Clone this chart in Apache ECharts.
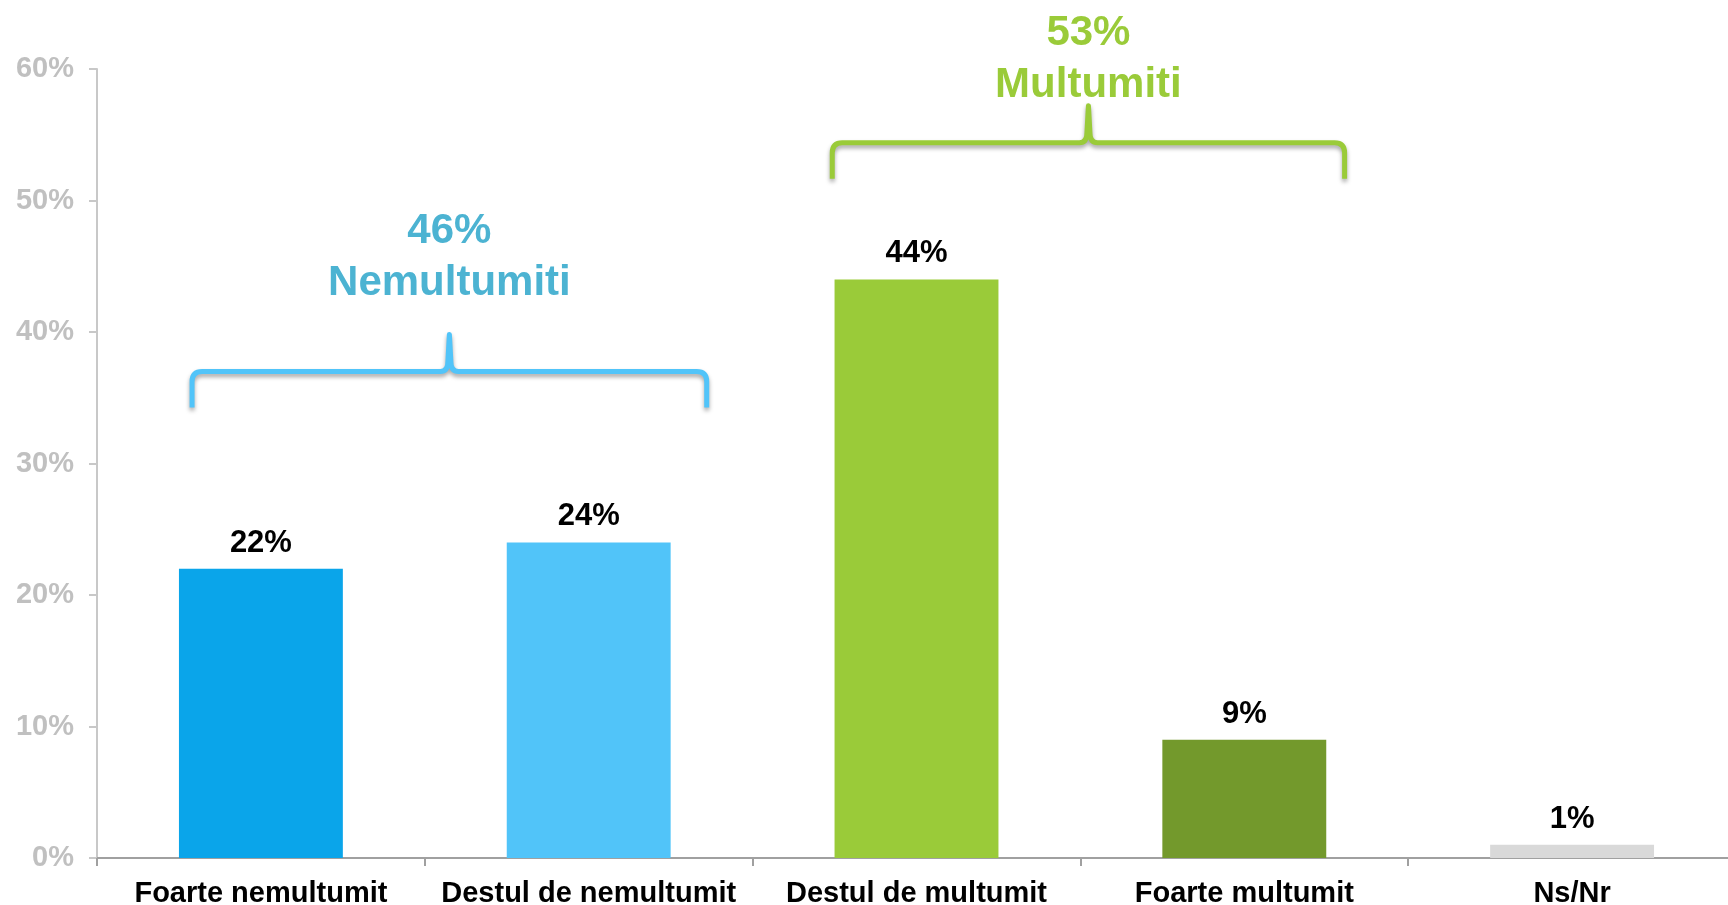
<!DOCTYPE html>
<html>
<head>
<meta charset="utf-8">
<script src="https://cdn.jsdelivr.net/npm/echarts@6/dist/echarts.min.js"></script>
<style>
html,body{margin:0;padding:0;background:#fff;}
#chart{width:1728px;height:905px;}
</style>
</head>
<body>
<div id="chart"></div>
<script>
// ---- data ----
const categories = ['Foarte nemultumit', 'Destul de nemultumit', 'Destul de multumit', 'Foarte multumit', 'Ns/Nr'];
const values = [22, 24, 44, 9, 1];
const barColors = ['#0aa5ea', '#51c4f9', '#9acb39', '#73992c', '#d9d9d9'];
const yTicks = [0, 10, 20, 30, 40, 50, 60];

// group annotations (braces)
const groupNames = ['Nemultumiti', 'Multumiti'];
const groupTotals = [46, 53];
const groupStart = [0, 2];
const groupEnd = [1, 3];
const groupBraceLevel = [37.0, 54.4];   // value of brace horizontal
const groupLabelLevel = [45.7, 60.7];   // value of label block centre
const groupColors = ['#51c4f9', '#9acb39'];
const groupTextColors = ['#4cb3d2', '#9acb39'];

const FONT = '"Liberation Sans", Arial, sans-serif';
// style: brace extent beyond the first/last category centre, in band units
const braceInset = [[-0.21, 0.36], [-0.257, 0.306]];

const chart = echarts.init(document.getElementById('chart'));

const braceData = groupNames.map((n, i) => [groupStart[i], groupEnd[i], groupBraceLevel[i], groupLabelLevel[i], i]);

function renderBrace(params, api) {
  const s = api.value(0), e = api.value(1), lvl = api.value(2), lab = api.value(3), gi = api.value(4);
  const band = api.size([1, 0])[0];
  const p0 = api.coord([s, lvl]);
  const p1 = api.coord([e, lvl]);
  const xl = p0[0] + braceInset[gi][0] * band;
  const xr = p1[0] + braceInset[gi][1] * band;
  const xm = (xl + xr) / 2;
  const yh = p0[1];
  const yb = yh + 36;
  const yp = yh - 37;
  const r = 10;
  const path = [
    'M', xl, yb, 'L', xl, yh + r, 'Q', xl, yh, xl + r, yh,
    'L', xm - 9, yh, 'Q', xm - 1.5, yh, xm - 1.5, yh - 10, 'L', xm, yp,
    'L', xm + 1.5, yh - 10, 'Q', xm + 1.5, yh, xm + 9, yh,
    'L', xr - r, yh, 'Q', xr, yh, xr, yh + r, 'L', xr, yb
  ].join(' ');
  const labP = api.coord([s, lab]);
  return {
    type: 'group',
    children: [
      {
        type: 'path',
        shape: { pathData: path },
        style: {
          fill: null, stroke: groupColors[gi], lineWidth: 5, lineCap: 'butt', lineJoin: 'round',
          shadowBlur: 4, shadowColor: 'rgba(0,0,0,0.35)', shadowOffsetY: 3
        }
      },
      {
        type: 'text',
        x: xm, y: labP[1],
        style: {
          text: groupTotals[gi] + '%\n' + groupNames[gi],
          fill: groupTextColors[gi],
          font: 'bold 42px ' + FONT,
          lineHeight: 52,
          align: 'center', verticalAlign: 'middle'
        }
      }
    ]
  };
}

chart.setOption({
  animation: false,
  backgroundColor: '#fff',
  grid: { left: 97, right: -8, top: 69, bottom: 47, containLabel: false, outerBoundsMode: 'none' },
  xAxis: {
    type: 'category',
    data: categories,
    axisLine: { show: true, lineStyle: { color: '#a0a0a0', width: 2 } },
    axisTick: { show: true, length: 8, lineStyle: { color: '#a0a0a0', width: 2 } },
    axisLabel: { color: '#000', fontWeight: 'bold', fontSize: 29, fontFamily: FONT, margin: 21, interval: 0 },
    splitLine: { show: false }
  },
  yAxis: {
    type: 'value',
    min: yTicks[0], max: yTicks[yTicks.length - 1], interval: 10,
    axisLine: { show: true, lineStyle: { color: '#c8c8c8', width: 2 } },
    axisTick: { show: true, length: 8, lineStyle: { color: '#c8c8c8', width: 2 } },
    axisLabel: { color: '#c0c0c0', fontWeight: 'bold', fontSize: 29, fontFamily: FONT, margin: 23, formatter: '{value}%' },
    splitLine: { show: false }
  },
  series: [
    {
      type: 'bar',
      barWidth: '50%',
      data: values.map((v, i) => ({ value: v, itemStyle: { color: barColors[i] } })),
      label: {
        show: true, position: 'top', distance: 10,
        formatter: '{c}%', color: '#000', fontWeight: 'bold', fontSize: 31, fontFamily: FONT
      },
      z: 2
    },
    {
      type: 'custom',
      renderItem: renderBrace,
      data: braceData,
      clip: false,
      silent: true,
      z: 3
    }
  ]
});
</script>
</body>
</html>
